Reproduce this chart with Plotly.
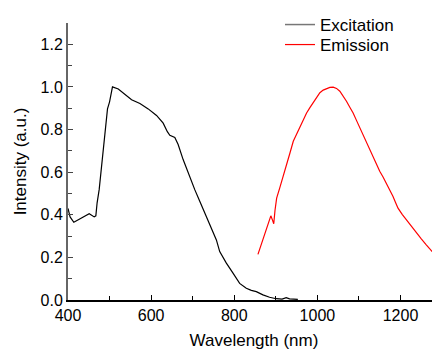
import plotly.graph_objects as go

exc_x = [400, 405, 414, 429, 441, 451, 455, 463, 467, 470, 475, 481, 489, 495, 500, 507,
         521, 537, 553, 573, 593, 613, 629, 639, 645, 657, 665, 677, 693, 705, 717, 729,
         741, 757, 765, 781, 797, 813, 829, 841, 853, 869, 885, 901, 915, 925, 933, 953]
exc_y = [0.43, 0.39, 0.365, 0.38, 0.395, 0.405, 0.40, 0.39, 0.395, 0.455, 0.518, 0.643, 0.80, 0.897, 0.93, 1.0,
         0.99, 0.965, 0.94, 0.922, 0.897, 0.866, 0.83, 0.79, 0.773, 0.763, 0.73, 0.659, 0.573, 0.518, 0.463, 0.408,
         0.353, 0.282, 0.227, 0.173, 0.126, 0.078, 0.055, 0.045, 0.039, 0.024, 0.013, 0.006, 0.004, 0.011, 0.005, 0.003]

em_x = [857, 866, 874, 882, 888, 892, 895, 898, 902, 910, 918, 926, 934, 942, 950, 958, 966, 974, 982,
        990, 998, 1006, 1014, 1022, 1030, 1038, 1046, 1054, 1062, 1070, 1078, 1086, 1094, 1102, 1110,
        1118, 1126, 1134, 1142, 1150, 1158, 1166, 1174, 1182, 1188, 1194, 1204, 1214, 1226, 1238,
        1250, 1262, 1278, 1294]
em_y = [0.214, 0.265, 0.314, 0.36, 0.395, 0.375, 0.358, 0.42, 0.478, 0.53, 0.58, 0.635, 0.69, 0.745, 0.78, 0.808, 0.845, 0.878, 0.903,
        0.925, 0.952, 0.973, 0.985, 0.993, 0.998, 0.999, 0.993, 0.98, 0.958, 0.933, 0.905, 0.878, 0.843, 0.808, 0.772,
        0.737, 0.706, 0.674, 0.639, 0.604, 0.577, 0.549, 0.518, 0.486, 0.458, 0.431, 0.402, 0.376, 0.345, 0.314,
        0.287, 0.259, 0.223, 0.188]

legend_names = ["Excitation", "Emission"]

font_family = "Liberation Sans, Arial, sans-serif"

# page body has an 8px margin; size the figure so the plot lands where the reference has it
W, H = 432, 344

fig = go.Figure()
fig.add_trace(go.Scatter(x=exc_x, y=exc_y, mode="lines", line=dict(color="black", width=1.2),
                         showlegend=False))
fig.add_trace(go.Scatter(x=em_x, y=em_y, mode="lines", line=dict(color="#ff0000", width=1.2),
                         showlegend=False))
fig.add_trace(go.Scatter(x=[None], y=[None], mode="lines", name=legend_names[0],
                         line=dict(color="#777777", width=1.5), legend="legend"))
fig.add_trace(go.Scatter(x=[None], y=[None], mode="lines", name=legend_names[1],
                         line=dict(color="#ff0000", width=1.2), legend="legend2"))

leg_common = dict(xref="container", yref="container", xanchor="left", yanchor="middle",
                  bgcolor="rgba(0,0,0,0)", font=dict(size=17), itemwidth=30)

fig.update_layout(
    width=W, height=H,
    margin=dict(l=60, r=0, t=15, b=52, autoexpand=False),
    paper_bgcolor="white", plot_bgcolor="white",
    font=dict(family=font_family, size=16, color="black"),
    legend=dict(x=272 / W, y=1 - 17 / H, **leg_common),
    legend2=dict(x=272 / W, y=1 - 37 / H, **leg_common),
    xaxis=dict(range=[400, 1295], showgrid=False, zeroline=False,
               showline=True, linecolor="black", linewidth=1.5,
               ticks="inside", ticklen=5, tickcolor="black", tickwidth=1,
               dtick=200, tick0=400,
               minor=dict(ticks="inside", dtick=100, ticklen=4, tickcolor="black"),
               title=dict(text="Wavelength (nm)", font=dict(size=17), standoff=11),
               tickfont=dict(size=16)),
    yaxis=dict(range=[0, 1.3], showgrid=False, zeroline=False,
               showline=True, linecolor="#666666", linewidth=2,
               ticks="inside", ticklen=5, tickcolor="#444444", tickwidth=1,
               dtick=0.2, tick0=0, tickformat=".1f",
               minor=dict(ticks="inside", dtick=0.1, ticklen=4, tickcolor="#444444"),
               title=dict(text="Intensity (a.u.)", font=dict(size=17), standoff=10),
               tickfont=dict(size=16)),
)

fig.write_html("out.html")
